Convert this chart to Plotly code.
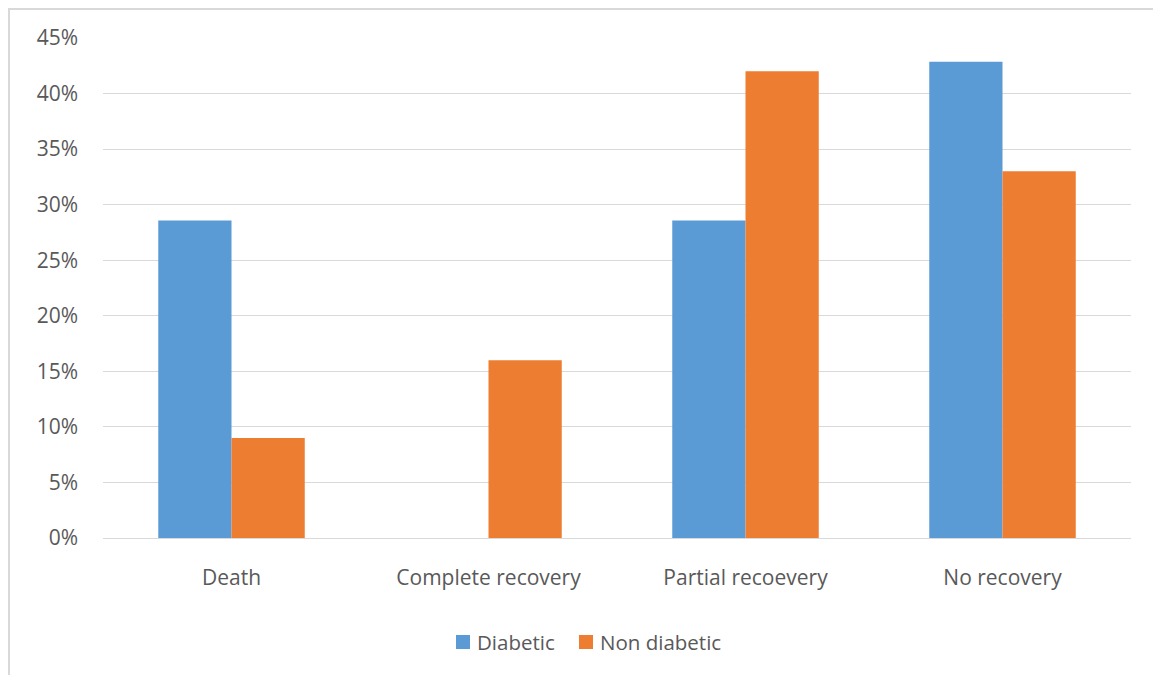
import plotly.graph_objects as go

categories = ["Death", "Complete recovery", "Partial recoevery", "No recovery"]
diabetic = [28.57, 0, 28.57, 42.86]
non_diabetic = [9, 16, 42, 33]
series_names = ["Diabetic", "Non diabetic"]
series_colors = ["#5B9BD5", "#ED7D31"]
y_ticks = [0, 5, 10, 15, 20, 25, 30, 35, 40, 45]
y_tick_labels = [f"{v}%" for v in y_ticks]

W, H = 1153, 675
L, R, T, B = 103, 22, 38, 137
font_family = "'Open Sans', sans-serif"
grey_text = "#595959"
grid = "#d9d9d9"
fs = 21
fs_legend = 20.5

fig = go.Figure()
for name, vals, col in zip(series_names, [diabetic, non_diabetic], series_colors):
    fig.add_trace(go.Bar(name=name, x=categories, y=vals,
                         marker=dict(color=col, line=dict(width=0))))

pw = W - L - R
ph = H - T - B


def px_x(x):
    return (x - L) / pw


def px_y(y):
    return (H - B - y) / ph


# legend drawn as colour squares with text labels
legend_items = [(456, 476), (579, 599)]
shapes = []
annotations = []
for (sx, tx), name, col in zip(legend_items, series_names, series_colors):
    shapes.append(dict(type="rect", xref="paper", yref="paper",
                       x0=px_x(sx), x1=px_x(sx + 14),
                       y0=px_y(635), y1=px_y(649),
                       fillcolor=col, line=dict(width=0)))
    annotations.append(dict(text=name, xref="paper", yref="paper",
                            x=px_x(tx - 1), y=px_y(642), xanchor="left",
                            yanchor="middle", showarrow=False,
                            font=dict(size=fs_legend, color=grey_text)))

# outer frame edges
shapes += [
    dict(type="line", xref="paper", yref="paper",
         x0=px_x(8), x1=px_x(W), y0=px_y(9), y1=px_y(9),
         line=dict(color=grid, width=2)),
    dict(type="line", xref="paper", yref="paper",
         x0=px_x(9), x1=px_x(9), y0=px_y(8), y1=px_y(H),
         line=dict(color=grid, width=2)),
]

fig.update_layout(
    width=W, height=H,
    margin=dict(l=L, r=R, t=T, b=B, pad=0),
    paper_bgcolor="white", plot_bgcolor="white",
    barmode="group", bargap=0.43, bargroupgap=0,
    font=dict(family=font_family, size=fs, color=grey_text),
    showlegend=False,
    xaxis=dict(showgrid=False, showline=True, linecolor=grid, linewidth=1,
               ticks="", tickfont=dict(size=fs, color=grey_text),
               ticklabelstandoff=21),
    yaxis=dict(range=[0, 45], tickvals=y_ticks, ticktext=y_tick_labels,
               showgrid=True, gridcolor=grid, gridwidth=1,
               zeroline=False, showline=False, ticks="",
               tickfont=dict(size=fs, color=grey_text),
               ticklabelstandoff=24),
    shapes=shapes,
    annotations=annotations,
)

fig.write_html("out.html")
